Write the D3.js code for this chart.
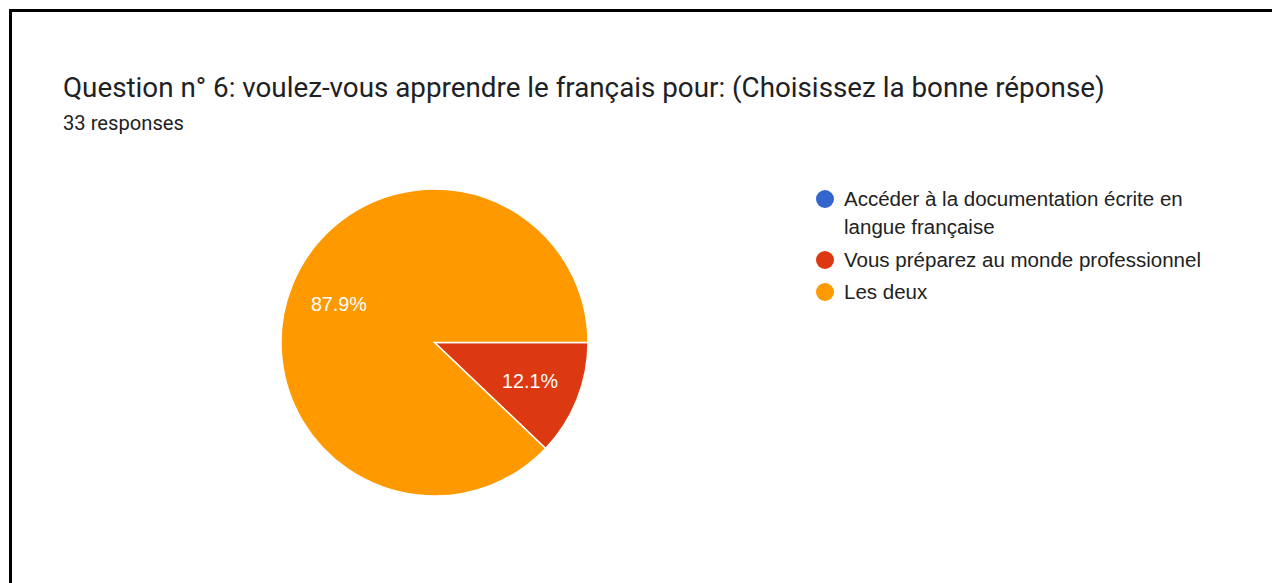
<!DOCTYPE html>
<html>
<head>
<meta charset="utf-8">
<script src="https://cdn.jsdelivr.net/npm/d3@7"></script>
<style>
html,body{margin:0;padding:0;background:#fff;}
svg{display:block;}
text{font-family:Roboto, Arial, sans-serif;}
.arialish{font-family:"Liberation Sans", Arial, sans-serif;}
</style>
</head>
<body>
<svg id="chart" width="1272" height="583"></svg>
<script>
const categories = ["Accéder à la documentation écrite en langue française", "Vous préparez au monde professionnel", "Les deux"];
const legendLines = [["Accéder à la documentation écrite en", "langue française"], ["Vous préparez au monde professionnel"], ["Les deux"]];
const counts = [0, 4, 29];
const colors = ["#3366cc", "#dc3912", "#ff9900"];
const titleText = "Question n° 6: voulez-vous apprendre le français pour: (Choisissez la bonne réponse)";
const subtitleText = "33 responses";

const svg = d3.select("#chart");

// frame lines (top and left)
svg.append("rect").attr("x", 9).attr("y", 9).attr("width", 1263).attr("height", 3).attr("fill", "#000");
svg.append("rect").attr("x", 9).attr("y", 9).attr("width", 3).attr("height", 574).attr("fill", "#000");

function fitSize(sel, target) {
  const w = sel.node().getComputedTextLength();
  const fs = parseFloat(sel.attr("font-size"));
  return fs * target / w;
}

const title = svg.append("text").attr("x", 63).attr("y", 97).attr("font-size", 24)
  .attr("fill", "#202124").text(titleText);
title.attr("font-size", fitSize(title, 1042).toFixed(2));
const sub = svg.append("text").attr("x", 63).attr("y", 130).attr("font-size", 16)
  .attr("fill", "#202124").text(subtitleText);
sub.attr("font-size", fitSize(sub, 121).toFixed(2));

// pie
const cx = 434.5, cy = 342.5, r = 153.5;
const total = d3.sum(counts);
const pie = d3.pie().sort(null).value(d => d).startAngle(Math.PI / 2).endAngle(Math.PI / 2 + 2 * Math.PI);
const arcs = pie(counts);
const arc = d3.arc().innerRadius(0).outerRadius(r);
const g = svg.append("g").attr("transform", `translate(${cx},${cy})`);
g.selectAll("path").data(arcs.filter(a => a.value > 0)).join("path")
  .attr("d", arc).attr("fill", d => colors[d.index])
  .attr("stroke", "#fff").attr("stroke-width", 1.5);

const fmt = d3.format(".1%");
const labelR = 103;
const lbls = g.selectAll("text.lbl").data(arcs.filter(a => a.value > 0)).join("text")
  .attr("class", "lbl arialish")
  .attr("x", d => Math.sin((d.startAngle + d.endAngle) / 2) * labelR)
  .attr("y", d => -Math.cos((d.startAngle + d.endAngle) / 2) * labelR)
  .attr("dy", "0.36em").attr("text-anchor", "middle")
  .attr("font-size", 18).attr("fill", "#fff")
  .text(d => fmt(d.value / total));
const lblSize = fitSize(lbls.filter(d => d.index === 1), 56);
lbls.attr("font-size", lblSize.toFixed(2));

// legend
const legY = [199, 260, 292];
const lg = svg.append("g");
categories.forEach((c, i) => {
  lg.append("circle").attr("cx", 825).attr("cy", legY[i]).attr("r", 9).attr("fill", colors[i]);
  legendLines[i].forEach((line, j) => {
    lg.append("text").attr("class", "arialish leg").attr("x", 844).attr("y", legY[i] + 6.5 + j * 28)
      .attr("font-size", 18).attr("fill", "#222").text(line);
  });
});
const legTexts = lg.selectAll("text.leg");
const legSize = fitSize(legTexts.filter(function () { return this.textContent.startsWith("Vous"); }), 357);
legTexts.attr("font-size", legSize.toFixed(2));
</script>
</body>
</html>
